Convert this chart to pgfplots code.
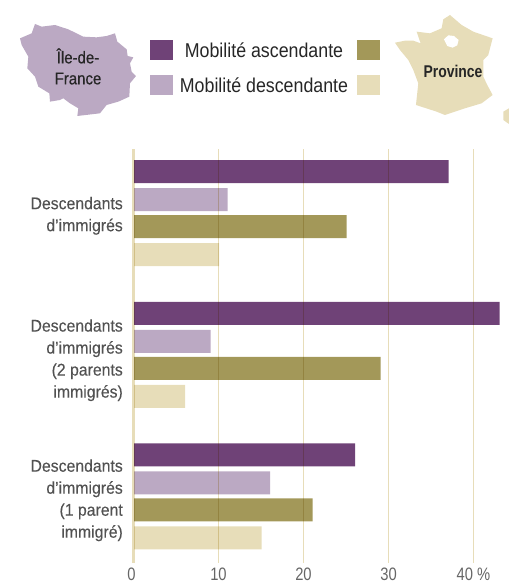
\documentclass[border=0pt]{standalone}
\usepackage{fontspec}
\setmainfont[FakeStretch=0.82]{Liberation Sans}
\newfontfamily\legendfont[FakeStretch=0.89]{Liberation Sans}
\newfontfamily\mapfont[FakeStretch=0.88,FakeBold=0.5]{Liberation Sans}
\newfontfamily\catfont[FakeStretch=0.93,FakeBold=0.2]{Liberation Sans}
\usepackage{pgfplots}
\pgfplotsset{compat=1.18}
\definecolor{violet1}{HTML}{6F4277}
\definecolor{violet2}{HTML}{BBA9C3}
\definecolor{olive1}{HTML}{A39859}
\definecolor{olive2}{HTML}{E7DDB9}
\begin{document}
\begin{tikzpicture}[x=1pt,y=-1pt]
\path[use as bounding box] (0,0) rectangle (509,583);
% Ile-de-France and France shapes (decoration, pixel coordinates)
\begin{scope}[x=0.3333pt,y=-0.3333pt]
\fill[violet2] (60,115)--(95,100)--(105,72)--(125,80)--(165,75)--(205,88)--(250,110)--(290,112)--(320,108)--(345,100)--(352,125)--(380,148)--(383,168)--(400,172)--(390,190)--(395,215)--(408,228)--(390,250)--(388,290)--(355,305)--(320,315)--(300,340)--(232,348)--(235,325)--(210,310)--(190,295)--(180,300)--(150,305)--(148,280)--(115,260)--(105,230)--(82,205)--(85,170)--(65,135)--cycle;
\fill[olive2] (1185,128)--(1215,122)--(1240,122)--(1262,130)--(1250,95)--(1290,100)--(1325,85)--(1330,58)--(1350,45)--(1385,75)--(1420,95)--(1478,115)--(1465,165)--(1450,180)--(1450,230)--(1462,255)--(1478,285)--(1445,310)--(1395,325)--(1335,345)--(1310,335)--(1248,315)--(1255,250)--(1240,210)--(1225,180)--(1200,150)--cycle;
\fill[white] (1332,118)--(1345,106)--(1362,108)--(1376,120)--(1372,136)--(1358,143)--(1342,138)--cycle;
\fill[olive2] (1510,335)--(1527,325)--(1527,372)--(1510,360)--cycle;
\end{scope}
\node[font=\fontsize{17}{21}\selectfont\mapfont,text=black!85,align=center,inner sep=0] at (78,66.5) {Île-de-\\France};
\node[font=\fontsize{17}{21}\selectfont\bfseries,text=black!85,inner sep=0] at (453,71) {Province};
% legend
\fill[violet1] (150,40) rectangle (173,60);
\fill[violet2] (150,75) rectangle (173,95);
\fill[olive1] (357,40) rectangle (380,60);
\fill[olive2] (357,75) rectangle (380,95);
\node[font=\fontsize{20}{22}\selectfont\legendfont,text=black!85,inner sep=0] at (264,50) {Mobilité ascendante};
\node[font=\fontsize{20}{22}\selectfont\legendfont,text=black!85,inner sep=0] at (264,85) {Mobilité descendante};
\coordinate (plotorigin) at (133.5,563);
\begin{axis}[
  at={(plotorigin)},
  anchor=south west,
  scale only axis,
  width=374pt,
  height=414pt,
  xmin=0, xmax=44,
  ymin=-0.452, ymax=2.473,
  y dir=reverse,
  xbar,
  bar width=23pt,
  axis line style={draw=none},
  axis on top,
  major tick length=0pt,
  xtick={10,20,30,40},
  xticklabels={10,20,30,{40 \%}},
  extra x ticks={0},
  extra x tick labels={0},
  extra x tick style={major grid style={line width=3pt,draw=olive2},x tick label style={xshift=-2pt}},
  xmajorgrids=true,
  grid style={line width=1.5pt,draw=olive2,blend mode=multiply},
  ytick={0.02,1.04,2.03},
  yticklabels={{Descendants\\d’immigrés},{Descendants\\d’immigrés\\(2 parents\\immigrés)},{Descendants\\d’immigrés\\(1 parent\\immigré)}},
  y tick label style={font=\fontsize{17}{22}\selectfont\catfont,align=right,text=black!68,inner sep=0,xshift=-10.5pt},
  x tick label style={font=\fontsize{18}{20}\selectfont,text=black!60,inner sep=0,yshift=-5pt},
]
\addplot[xbar,xshift=0.6pt,bar shift=41.25pt,fill=violet1,draw=none] coordinates {(37,0) (43,1) (26,2)};
\addplot[xbar,xshift=0.6pt,bar shift=13.25pt,fill=violet2,draw=none] coordinates {(11,0) (9,1) (16,2)};
\addplot[xbar,xshift=0.6pt,bar shift=-13.75pt,fill=olive1,draw=none] coordinates {(25,0) (29,1) (21,2)};
\addplot[xbar,xshift=0.6pt,bar shift=-41.75pt,fill=olive2,draw=none] coordinates {(10,0) (6,1) (15,2)};
\end{axis}
\end{tikzpicture}
\end{document}
